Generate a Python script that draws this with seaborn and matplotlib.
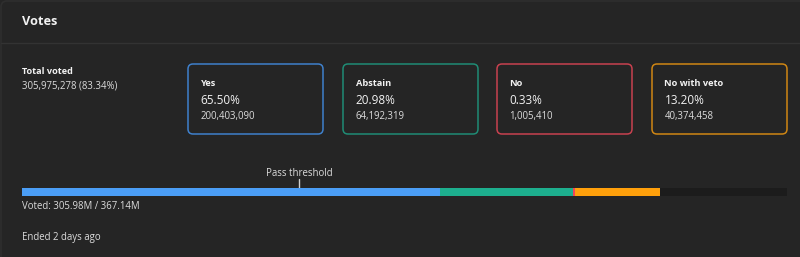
import numpy as np
import pandas as pd
import matplotlib
matplotlib.use("Agg")
import matplotlib.pyplot as plt
import seaborn as sns
from matplotlib.patches import FancyBboxPatch

# vote data
options = ["Yes", "Abstain", "No", "No with veto"]
percents = ["65.50%", "20.98%", "0.33%", "13.20%"]
counts = [200403090, 64192319, 1005410, 40374458]
bar_colors = ["#4b9ef6", "#1daf8e", "#f0455c", "#ffa00b"]
edge_colors = ["#3f80cc", "#1f8c75", "#c8414f", "#cf8614"]
total_voted = 305975278
total_power = 367140000
voted_share = "83.34%"
threshold_share = 0.362

BG = "#252525"
TXT = "#f2f2f2"
SUB = "#dcdcdc"

sns.set_theme(style="dark")
plt.rcParams["font.family"] = ["Open Sans", "DejaVu Sans"]

fig = plt.figure(figsize=(8, 2.57), dpi=100, facecolor=BG)
ax = fig.add_axes([0, 0, 1, 1])
ax.set_xlim(0, 800)
ax.set_ylim(257, 0)
ax.set_facecolor(BG)
ax.axis("off")

# panel and header
ax.add_patch(FancyBboxPatch((1, 1), 830, 300, boxstyle="round,pad=0,rounding_size=6",
                            fc=BG, ec="#2e2e2e", lw=1.2))
ax.plot([1, 800], [42.5, 42.5], color="#333333", lw=1)
ax.text(22, 25, "Votes", color=TXT, fontsize=9.2, fontweight="bold", va="baseline")

ax.text(22, 73.5, "Total voted", color=TXT, fontsize=6.6, fontweight="bold", va="baseline")
ax.text(22, 89, f"{total_voted:,} ({voted_share})", color=SUB, fontsize=6.9, va="baseline")

# option boxes
box_x = [188, 343, 497, 652]
for bx, name, pct, cnt, ec in zip(box_x, options, percents, counts, edge_colors):
    ax.add_patch(FancyBboxPatch((bx, 64), 135, 70, boxstyle="round,pad=0,rounding_size=5",
                                fc=BG, ec=ec, lw=1.1))
    ax.text(bx + 12.5, 86.5, name, color=TXT, fontsize=6.7, fontweight="bold", va="baseline")
    ax.text(bx + 12.5, 104.5, pct, color=TXT, fontsize=8.5, va="baseline")
    ax.text(bx + 12.5, 119.5, f"{cnt:,}", color=SUB, fontsize=6.9, va="baseline")

# stacked progress bar
bax = fig.add_axes([22 / 800, (257 - 196) / 257, 765 / 800, 8 / 257])
bax.set_facecolor(BG)
cum = np.cumsum(counts)
layers = [total_power] + list(cum[::-1])
layer_colors = ["#1c1c1c"] + bar_colors[::-1]
for val, col in zip(layers, layer_colors):
    sns.barplot(x=[val], y=["votes"], orient="h", color=col, width=1,
                saturation=1, ax=bax, linewidth=0)
bax.set_xlim(0, total_power)
bax.set_ylim(0.5, -0.5)
bax.axis("off")

tx = 22 + 765 * threshold_share
ax.plot([tx, tx], [179, 188], color="#d0d0d0", lw=1)
ax.text(tx, 175.5, "Pass threshold", color=SUB, fontsize=6.9, ha="center", va="baseline")

ax.text(22, 209, f"Voted: {total_voted / 1e6:.2f}M / {total_power / 1e6:.2f}M",
        color=SUB, fontsize=6.9, va="baseline")
ax.text(22, 240, "Ended 2 days ago", color=SUB, fontsize=6.9, va="baseline")

fig.savefig("out.png", dpi=100, facecolor=BG)
